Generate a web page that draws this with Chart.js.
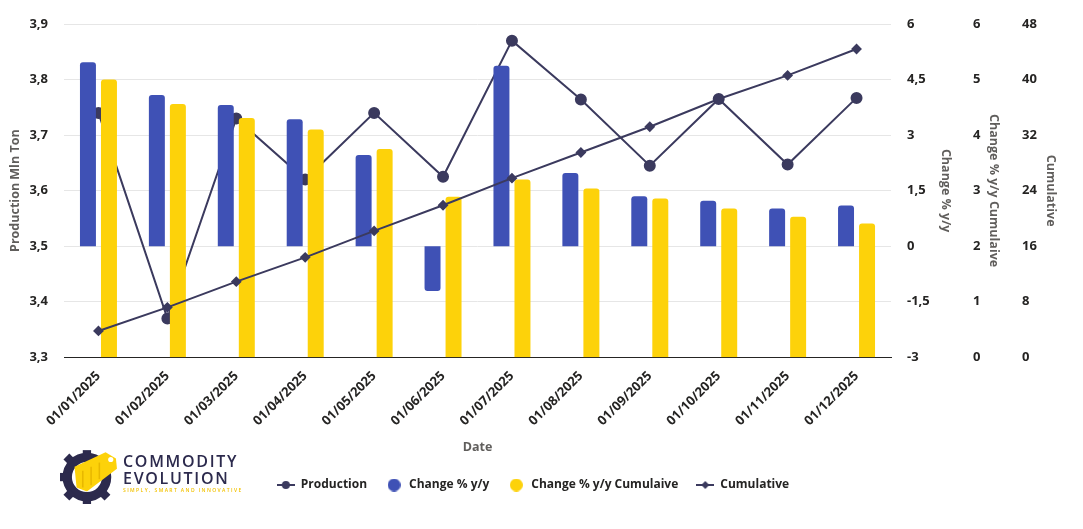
<!DOCTYPE html>
<html lang="en">
<head>
    <meta charset="UTF-8">
    <title>Production and Change % y/y</title>
    <script src="https://cdn.jsdelivr.net/npm/chart.js"></script>
    <style>
        body {
            margin: 0;
            background: #fff;
            font-family: 'Open Sans', 'Noto Sans', sans-serif;
        }
        .wrap {
            position: relative;
            width: 1083px;
            height: 529px;
        }
        .logo {
            position: absolute;
            left: 60px;
            top: 446px;
            display: flex;
            align-items: center;
        }
        .logo .txt {
            margin-left: 5px;
            margin-top: -4px;
            color: #2c2a4d;
            line-height: 1;
        }
        .logo .big {
            font-size: 16px;
            letter-spacing: 1.7px;
            font-weight: 600;
            margin-bottom: 1px;
        }
        .logo .tag {
            font-size: 5px;
            letter-spacing: 1.4px;
            color: #f2c200;
            font-weight: 600;
            margin-top: 2px;
        }
    </style>
</head>
<body>
<div class="wrap">
    <canvas id="chart" width="1083" height="529"></canvas>
    <div class="logo">
        <svg width="58" height="58" viewBox="0 0 56 56">
            <g fill="#2c2a4d">
                <circle cx="26" cy="30" r="19" fill="none" stroke="#2c2a4d" stroke-width="9"/>
                <rect x="22" y="4" width="8" height="8"/>
                <rect x="22" y="48" width="8" height="8"/>
                <rect x="0" y="26" width="8" height="8"/>
                <rect x="5" y="9" width="8" height="8" transform="rotate(45 9 13)"/>
                <rect x="5" y="43" width="8" height="8" transform="rotate(45 9 47)"/>
                <rect x="39" y="43" width="8" height="8" transform="rotate(45 43 47)"/>
            </g>
            <polygon points="14,20 44,6 54,12 55,22 26,44 16,40" fill="#fdd20a"/>
            <g stroke="#e8b800" stroke-width="1.5">
                <line x1="22" y1="24" x2="22" y2="40"/>
                <line x1="30" y1="20" x2="30" y2="38"/>
                <line x1="38" y1="16" x2="38" y2="32"/>
            </g>
            <circle cx="49" cy="13" r="2.5" fill="#fff"/>
        </svg>
        <div class="txt">
            <div class="big">COMMODITY</div>
            <div class="big">EVOLUTION</div>
            <div class="tag">SIMPLY, SMART AND INNOVATIVE</div>
        </div>
    </div>
</div>
<script>
    const dates = ['01/01/2025', '01/02/2025', '01/03/2025', '01/04/2025', '01/05/2025', '01/06/2025',
                   '01/07/2025', '01/08/2025', '01/09/2025', '01/10/2025', '01/11/2025', '01/12/2025'];
    const production = [3.74, 3.37, 3.73, 3.62, 3.74, 3.625, 3.87, 3.764, 3.645, 3.765, 3.647, 3.767];
    const changeYY = [4.97, 4.08, 3.81, 3.43, 2.46, -1.21, 4.87, 1.98, 1.35, 1.23, 1.02, 1.10];
    const changeCum = [5.0, 4.56, 4.31, 4.10, 3.75, 2.89, 3.20, 3.04, 2.86, 2.68, 2.53, 2.41];
    const cumulative = [3.8, 7.2, 10.9, 14.4, 18.2, 21.9, 25.8, 29.5, 33.2, 37.2, 40.6, 44.4];

    const DARK = '#3b3a5e';
    const BLUE = '#3f51b5';
    const YELLOW = '#fdd20a';
    const TICK = '#252423';
    const TITLE = '#605e5c';
    const FONT = "'Open Sans', 'Noto Sans', sans-serif";

    const comma = (v, d) => (d == null ? String(v) : v.toFixed(d)).replace('.', ',');

    // legend symbols
    function lineIcon(diamond) {
        const c = document.createElement('canvas');
        c.width = 18; c.height = 12;
        const g = c.getContext('2d');
        g.strokeStyle = DARK; g.fillStyle = DARK; g.lineWidth = 2;
        g.beginPath(); g.moveTo(0, 6); g.lineTo(18, 6); g.stroke();
        g.beginPath();
        if (diamond) {
            g.moveTo(9, 2); g.lineTo(13, 6); g.lineTo(9, 10); g.lineTo(5, 6); g.closePath();
        } else {
            g.arc(9, 6, 4, 0, Math.PI * 2);
        }
        g.fill();
        return c;
    }
    function dotIcon(color) {
        const c = document.createElement('canvas');
        c.width = 13; c.height = 13;
        const g = c.getContext('2d');
        g.fillStyle = color;
        g.beginPath(); g.arc(6.5, 6.5, 6.5, 0, Math.PI * 2); g.fill();
        return c;
    }
    const icons = [lineIcon(false), dotIcon(BLUE), dotIcon(YELLOW), lineIcon(true)];

    const tickFont = { family: FONT, size: 13, weight: 'bold' };
    const titleFont = { family: FONT, size: 12.5, weight: 'bold' };

    // right-hand axes: fixed widths, tick gap done with an invisible tick mark
    function rightAxis(min, max, step, gap, width, title, cb) {
        return {
            position: 'right',
            min: min, max: max,
            grid: { display: false, drawTicks: true, tickLength: gap, tickColor: 'transparent' },
            border: { display: false },
            ticks: { stepSize: step, color: TICK, font: tickFont, padding: 0, callback: cb },
            title: { display: true, text: title, color: TITLE, font: titleFont, padding: 0 },
            afterFit: s => { s.width = width; }
        };
    }

    new Chart(document.getElementById('chart'), {
        data: {
            labels: dates,
            datasets: [{
                type: 'line',
                label: 'Production',
                data: production,
                yAxisID: 'y',
                borderColor: DARK,
                backgroundColor: DARK,
                borderWidth: 2,
                pointRadius: 5,
                pointHoverRadius: 5,
                tension: 0,
                order: 10
            }, {
                type: 'bar',
                label: 'Change % y/y',
                data: changeYY,
                yAxisID: 'y1',
                backgroundColor: BLUE,
                borderRadius: 3,
                borderSkipped: 'start',
                categoryPercentage: 0.61,
                barPercentage: 0.76,
                order: 4
            }, {
                type: 'bar',
                label: 'Change % y/y Cumulaive',
                data: changeCum,
                yAxisID: 'y2',
                backgroundColor: YELLOW,
                borderRadius: 3,
                borderSkipped: 'start',
                categoryPercentage: 0.61,
                barPercentage: 0.76,
                order: 5
            }, {
                type: 'line',
                label: 'Cumulative',
                data: cumulative,
                yAxisID: 'y3',
                borderColor: DARK,
                backgroundColor: DARK,
                borderWidth: 2,
                pointStyle: 'rectRot',
                pointRadius: 4,
                pointHoverRadius: 4,
                tension: 0,
                order: 0
            }]
        },
        options: {
            responsive: false,
            animation: false,
            layout: { padding: { top: 24, left: 8, right: 25, bottom: 28 } },
            scales: {
                x: {
                    offset: true,
                    grid: { display: false, drawTicks: false },
                    border: { display: true, color: '#252423', width: 1 },
                    ticks: { color: TICK, font: tickFont, maxRotation: 45, minRotation: 45, padding: 11 },
                    title: { display: true, text: 'Date', color: TITLE, font: titleFont, padding: { top: 0, bottom: 6 } }
                },
                y: {
                    position: 'left',
                    min: 3.3, max: 3.9,
                    grid: { color: '#e6e6e6', drawTicks: true, tickLength: 16, tickColor: 'transparent' },
                    border: { display: false },
                    ticks: { stepSize: 0.1, color: TICK, font: tickFont, padding: 0, callback: v => comma(v, 1) },
                    title: { display: true, text: 'Production Mln Ton', color: TITLE, font: titleFont, padding: 0 },
                    afterFit: s => { s.width = 56; }
                },
                y1: rightAxis(-3, 6, 1.5, 16, 62, 'Change % y/y', v => comma(Math.round(v * 10) / 10)),
                y2: rightAxis(0, 6, 1, 20, 48, 'Change % y/y Cumulaive'),
                y3: rightAxis(0, 48, 8, 21, 57, 'Cumulative')
            },
            plugins: {
                legend: {
                    position: 'bottom',
                    labels: {
                        usePointStyle: true,
                        pointStyleWidth: 18,
                        boxHeight: 12,
                        padding: 18,
                        color: TICK,
                        font: { family: FONT, size: 12, weight: 'bold' },
                        sort: (a, b) => a.datasetIndex - b.datasetIndex,
                        generateLabels: chart => {
                            const items = Chart.defaults.plugins.legend.labels.generateLabels(chart);
                            items.forEach(it => { it.pointStyle = icons[it.datasetIndex]; });
                            return items;
                        }
                    }
                },
                tooltip: { enabled: false }
            }
        }
    });
</script>
</body>
</html>
